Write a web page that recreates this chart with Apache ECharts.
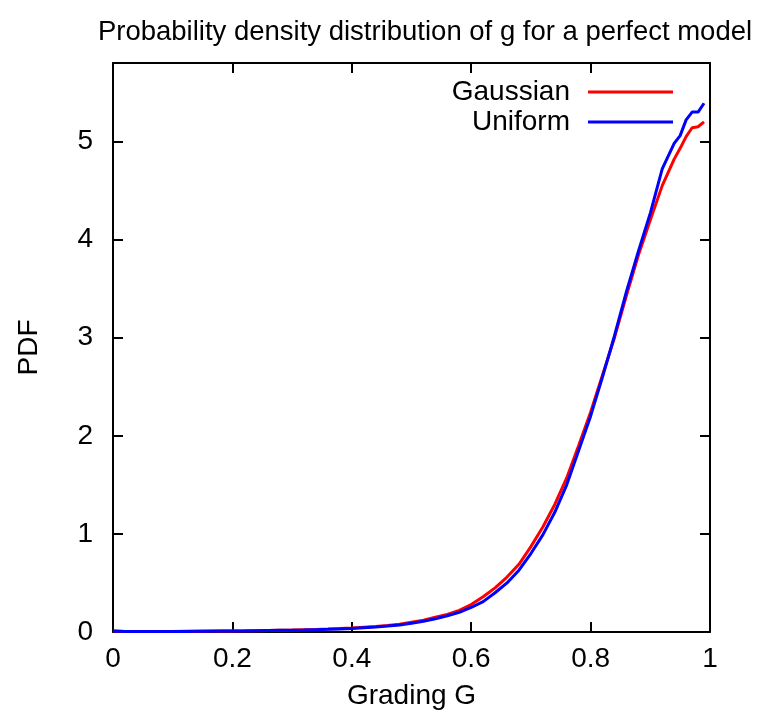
<!DOCTYPE html>
<html>
<head>
<meta charset="utf-8">
<script src="https://cdn.jsdelivr.net/npm/echarts@6/dist/echarts.min.js"></script>
<style>
  html, body { margin: 0; padding: 0; background: #fff; }
  #chart { width: 765px; height: 723px; }
</style>
</head>
<body>
<div id="chart"></div>
<script>
const gradeX = [0, 0.02, 0.04, 0.06, 0.08, 0.1, 0.12, 0.14, 0.16, 0.18, 0.2, 0.22, 0.24, 0.26, 0.28, 0.3,
  0.32, 0.34, 0.36, 0.38, 0.4, 0.42, 0.44, 0.46, 0.48, 0.5, 0.52, 0.54, 0.56, 0.58, 0.6,
  0.62, 0.64, 0.66, 0.68, 0.7, 0.72, 0.74, 0.76, 0.78, 0.8, 0.82, 0.84, 0.86, 0.88, 0.9,
  0.92, 0.94, 0.95, 0.96, 0.97, 0.98, 0.99];
const gaussian = [0.01, 0.005, 0.005, 0.005, 0.006, 0.006, 0.007, 0.008, 0.009, 0.01, 0.011, 0.012, 0.014, 0.016, 0.018, 0.02,
  0.023, 0.026, 0.03, 0.035, 0.04, 0.048, 0.056, 0.066, 0.08, 0.1, 0.12, 0.15, 0.18, 0.22, 0.28,
  0.36, 0.45, 0.56, 0.69, 0.87, 1.07, 1.3, 1.57, 1.9, 2.24, 2.62, 3.0, 3.43, 3.84, 4.2,
  4.55, 4.82, 4.93, 5.05, 5.14, 5.15, 5.2];
const uniform = [0.01, 0.004, 0.004, 0.004, 0.005, 0.005, 0.006, 0.007, 0.008, 0.009, 0.01, 0.011, 0.013, 0.015, 0.017, 0.019,
  0.021, 0.024, 0.027, 0.031, 0.036, 0.043, 0.05, 0.06, 0.072, 0.09, 0.11, 0.135, 0.165, 0.2, 0.25,
  0.31, 0.4, 0.5, 0.63, 0.8, 0.99, 1.22, 1.5, 1.85, 2.2, 2.6, 3.02, 3.47, 3.88, 4.27,
  4.72, 4.98, 5.06, 5.22, 5.3, 5.3, 5.39];
const xTicks = [0, 0.2, 0.4, 0.6, 0.8, 1];

const font = "'Liberation Sans', Arial, sans-serif";
const chart = echarts.init(document.getElementById("chart"), null, { renderer: "canvas" });

const axisBase = {
  axisLine: { show: true, onZero: false, lineStyle: { color: "#000", width: 2 } },
  axisTick: { show: true, inside: true, length: 10, lineStyle: { color: "#000", width: 2 } },
  splitLine: { show: false }
};

chart.setOption({
  backgroundColor: "#fff",
  animation: false,
  title: {
    text: "Probability density distribution of g for a perfect model",
    left: 420, top: 13, textAlign: "center",
    textStyle: { fontFamily: font, fontSize: 27.5, fontWeight: "normal", color: "#000" }
  },
  legend: {
    orient: "vertical", right: 87, top: 72, align: "right",
    itemWidth: 85, itemHeight: 3, itemGap: 0, icon: "rect",
    textStyle: { fontFamily: font, fontSize: 28, lineHeight: 30, color: "#000", padding: [0, 13, 0, 0] },
    data: ["Gaussian", "Uniform"]
  },
  grid: { left: 113, right: 55, top: 63, bottom: 91 },
  xAxis: [
    Object.assign({}, axisBase, {
      type: "value", min: 0, max: 1, interval: 0.2, position: "bottom",
      name: "Grading G", nameLocation: "middle", nameGap: 50,
      nameTextStyle: { fontFamily: font, fontSize: 28, color: "#000" },
      axisLabel: { fontFamily: font, fontSize: 28, color: "#000", margin: 13,
        formatter: (v) => xTicks.includes(Math.round(v * 10) / 10) ? String(Math.round(v * 10) / 10) : "" }
    }),
    Object.assign({}, axisBase, {
      type: "value", min: 0, max: 1, interval: 0.2, position: "top",
      axisLabel: { show: false }
    })
  ],
  yAxis: [
    Object.assign({}, axisBase, {
      type: "value", min: 0, max: 5.8, interval: 1, position: "left",
      name: "PDF", nameLocation: "middle", nameGap: 70, nameRotate: 90,
      nameTextStyle: { fontFamily: font, fontSize: 28, color: "#000" },
      axisLabel: { fontFamily: font, fontSize: 28, color: "#000", margin: 20, showMaxLabel: false }
    }),
    Object.assign({}, axisBase, {
      type: "value", min: 0, max: 5.8, interval: 1, position: "right",
      axisLabel: { show: false }
    })
  ],
  series: [
    {
      name: "Gaussian", type: "line", xAxisIndex: 0, yAxisIndex: 0,
      data: gradeX.map((x, i) => [x, gaussian[i]]),
      symbol: "none", color: "#ff0000", lineStyle: { color: "#ff0000", width: 3 }
    },
    {
      name: "Uniform", type: "line", xAxisIndex: 0, yAxisIndex: 0,
      data: gradeX.map((x, i) => [x, uniform[i]]),
      symbol: "none", color: "#0000ff", lineStyle: { color: "#0000ff", width: 3 }
    }
  ]
});
</script>
</body>
</html>
